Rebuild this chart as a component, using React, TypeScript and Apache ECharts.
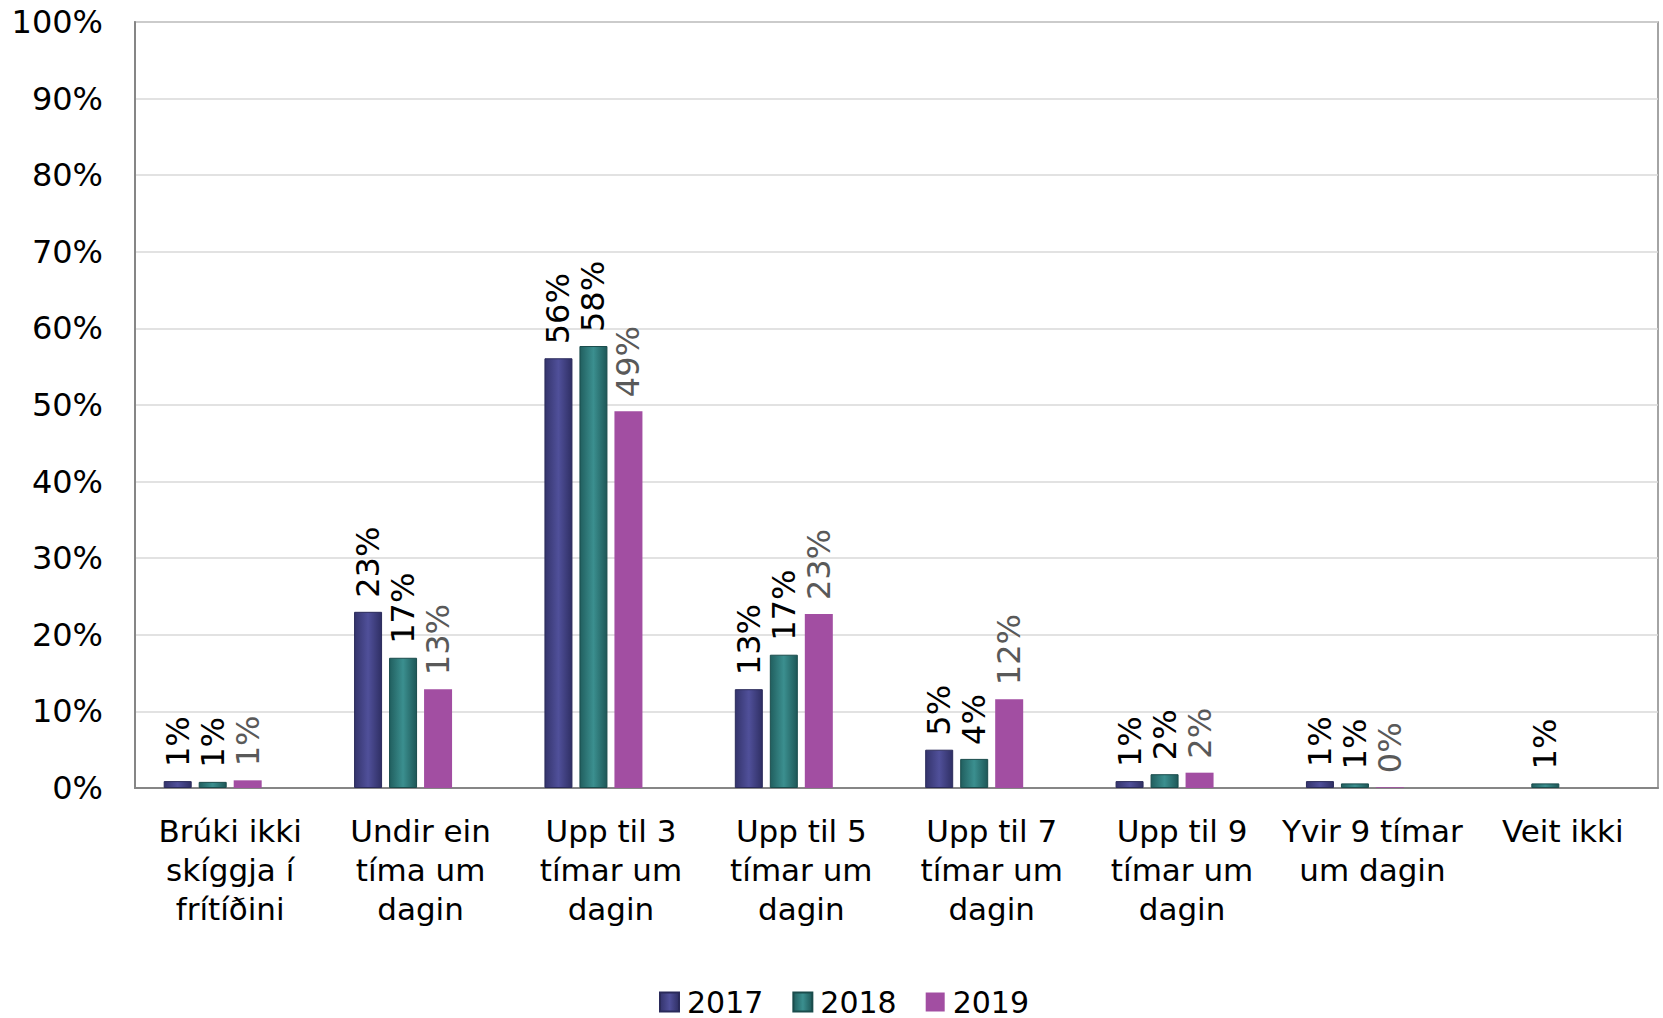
import React, { useEffect, useRef } from "react";
import * as echarts from "echarts";

const categories = [
  "Brúki ikki\nskíggja í\nfrítíðini",
  "Undir ein\ntíma um\ndagin",
  "Upp til 3\ntímar um\ndagin",
  "Upp til 5\ntímar um\ndagin",
  "Upp til 7\ntímar um\ndagin",
  "Upp til 9\ntímar um\ndagin",
  "Yvir 9 tímar\num dagin",
  "Veit ikki",
];
const seriesNames = ["2017", "2018", "2019"];
const values2017 = [0.9, 23.0, 56.1, 12.9, 5.0, 0.9, 0.9, null];
const values2018 = [0.8, 17.0, 57.7, 17.4, 3.8, 1.8, 0.6, 0.6];
const values2019 = [1.0, 12.9, 49.2, 22.7, 11.6, 2.0, 0.1, null];
const yTicks = { min: 0, max: 100, interval: 10 };

const FONT = "DejaVu Sans, Verdana, sans-serif";

export default function App() {
  const ref = useRef<HTMLDivElement>(null);
  useEffect(() => {
    if (!ref.current) return;
    const chart = echarts.init(ref.current, null, { renderer: "svg" });
    const grad = (a: string, b: string, c: string) =>
      new echarts.graphic.LinearGradient(0, 0, 1, 0, [
        { offset: 0, color: a },
        { offset: 0.5, color: b },
        { offset: 1, color: c },
      ]);
    const label = (color: string) => ({
      show: true,
      position: "top",
      rotate: 90,
      align: "left",
      verticalAlign: "middle",
      distance: 14,
      color,
      fontSize: 32,
      fontFamily: FONT,
      formatter: (p: any) => Math.round(p.value) + "%",
    });
    const option: any = {
      animation: false,
      backgroundColor: "#ffffff",
      textStyle: { fontFamily: FONT },
      grid: {
        left: 135,
        right: 5,
        top: 22,
        bottom: 230,
        show: true,
        borderColor: "#868686",
        borderWidth: 1.5,
      },
      legend: {
        data: seriesNames,
        left: 654,
        top: 982,
        itemWidth: 19,
        itemHeight: 19,
        itemGap: 29,
        icon: "rect",
        textStyle: { fontSize: 30, color: "#000", fontFamily: FONT, padding: [0, 0, 0, 3] },
      },
      xAxis: {
        type: "category",
        data: categories,
        axisLine: { show: true, lineStyle: { color: "#868686", width: 2 } },
        axisTick: { show: false },
        axisLabel: {
          interval: 0,
          fontSize: 31,
          lineHeight: 39,
          color: "#000",
          fontFamily: FONT,
          margin: 23,
        },
      },
      yAxis: {
        type: "value",
        min: yTicks.min,
        max: yTicks.max,
        interval: yTicks.interval,
        axisLine: { show: true, lineStyle: { color: "#868686", width: 2 } },
        axisTick: { show: false },
        splitLine: { lineStyle: { color: "#d9d9d9", width: 1.5 } },
        axisLabel: {
          formatter: "{value}%",
          fontSize: 32,
          color: "#000",
          fontFamily: FONT,
          margin: 32,
        },
      },
      series: [
        {
          name: "2017",
          type: "bar",
          barWidth: 28,
          barGap: "25%",
          data: values2017,
          itemStyle: {
            color: grad("#34346c", "#50509a", "#2f2f64"),
            borderColor: "#2a2a5a",
            borderWidth: 1,
          },
          label: label("#000"),
        },
        {
          name: "2018",
          type: "bar",
          barWidth: 28,
          barGap: "25%",
          data: values2018,
          itemStyle: {
            color: grad("#215f5f", "#3b8f8f", "#1e5858"),
            borderColor: "#1a4c4c",
            borderWidth: 1,
          },
          label: label("#000"),
        },
        {
          name: "2019",
          type: "bar",
          barWidth: 28,
          barGap: "25%",
          data: values2019,
          itemStyle: { color: "#a24ea2" },
          label: label("#595959"),
        },
        {
          name: "hidden",
          type: "bar",
          barWidth: 28,
          barGap: "25%",
          data: categories.map(() => null),
          itemStyle: { color: "transparent" },
        },
      ],
    };
    chart.setOption(option);
    return () => chart.dispose();
  }, []);
  return (
    <div
      ref={ref}
      style={{ position: "absolute", left: 0, top: 0, width: 1663, height: 1018, background: "#fff" }}
    />
  );
}
